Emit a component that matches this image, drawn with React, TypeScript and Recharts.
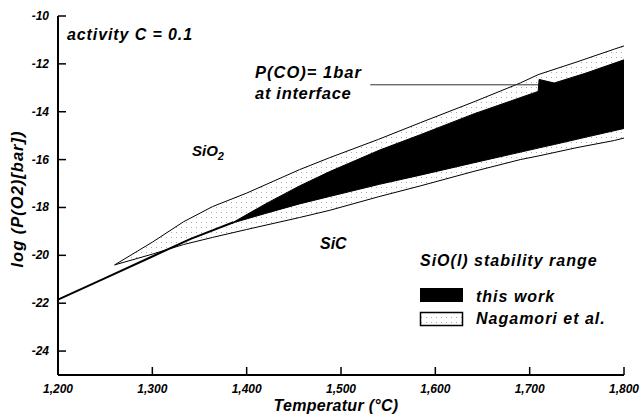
import { ComposedChart, Area, Line, XAxis, YAxis } from "recharts";

const FONT = '"Liberation Sans", Arial, sans-serif';

const xTicks = [1200, 1300, 1400, 1500, 1600, 1700, 1800];
const yTicks = [-24, -22, -20, -18, -16, -14, -12, -10];

// SiO2 / SiC boundary below the stability wedge
const boundaryT = [1200, 1250, 1300, 1340, 1386];
const boundaryLog = [-21.85, -20.95, -20.05, -19.32, -18.62];

// SiO(l) stability range, this work
const workT = [1384, 1420, 1456, 1488, 1541, 1584, 1640, 1680, 1709, 1710, 1726, 1760, 1800];
const workLo = [-18.66, -18.25, -17.85, -17.54, -17.03, -16.65, -16.14, -15.78, -15.52, -15.51, -15.37, -15.06, -14.7];
const workHi = [-18.66, -17.85, -17.1, -16.5, -15.6, -14.96, -14.1, -13.55, -13.15, -12.65, -12.8, -12.38, -11.83];

// SiO(l) stability range, Nagamori et al.
const nagT = [1260, 1300, 1333, 1364, 1400, 1456, 1488, 1540, 1584, 1640, 1690, 1709, 1750, 1790, 1800];
const nagLo = [-20.4, -19.95, -19.55, -19.25, -18.92, -18.42, -18.12, -17.55, -17.1, -16.5, -16.0, -15.85, -15.5, -15.2, -15.1];
const nagHi = [-20.4, -19.45, -18.6, -17.96, -17.4, -16.42, -15.92, -15.15, -14.46, -13.6, -12.8, -12.45, -11.92, -11.38, -11.25];

// pointer from the "P(CO) = 1bar" label
const pointerT = [1531, 1709];
const pointerLog = [-12.875, -12.875];

const boundaryRows = boundaryT.map((T, i) => ({ T, v: boundaryLog[i] }));
const workRows = workT.map((T, i) => ({ T, band: [workLo[i], workHi[i]] }));
const nagRows = nagT.map((T, i) => ({ T, band: [nagLo[i], nagHi[i]] }));
const pointerRows = pointerT.map((T, i) => ({ T, v: pointerLog[i] }));

const txt = {
  fontFamily: FONT,
  fontWeight: "bold" as const,
  fontStyle: "italic" as const,
  fill: "#000",
};

function YTick(props: any) {
  const { x, y, payload } = props;
  const ax = x + 8;
  return (
    <g>
      <line x1={ax} x2={ax + 8} y1={y} y2={y} stroke="#000" strokeWidth={1.5} />
      <text x={x - 1} y={y + 4} textAnchor="end" fontSize={12} {...txt}>
        {payload.value}
      </text>
    </g>
  );
}

function XTick(props: any) {
  const { x, y, payload } = props;
  const ay = y - 7;
  return (
    <g>
      <line x1={x} x2={x} y1={ay} y2={ay - 8} stroke="#000" strokeWidth={1.5} />
      <text x={x} y={y + 11} textAnchor="middle" fontSize={12} {...txt}>
        {payload.value.toLocaleString("en-US")}
      </text>
    </g>
  );
}

export default function App() {
  return (
    <div style={{ position: "absolute", left: 0, top: 0, width: 641, height: 418, background: "#fff" }}>
      <ComposedChart width={641} height={418} margin={{ top: 16, right: 17, bottom: 0, left: 0 }}>
        <defs>
          <pattern id="stip" width="5" height="5" patternUnits="userSpaceOnUse">
            <rect width="5" height="5" fill="#fff" />
            <rect x="1" y="2" width="1" height="1" fill="#aaa" />
          </pattern>
        </defs>
        <XAxis
          dataKey="T"
          type="number"
          domain={[1200, 1800]}
          ticks={xTicks}
          height={43}
          tickSize={0}
          tickMargin={7}
          tickLine={false}
          tick={<XTick />}
          axisLine={{ stroke: "#000", strokeWidth: 2 }}
          allowDuplicatedCategory={false}
        />
        <XAxis
          xAxisId="top"
          dataKey="T"
          type="number"
          orientation="top"
          domain={[1200, 1800]}
          height={0}
          tick={false}
          tickLine={false}
          axisLine={{ stroke: "#000", strokeWidth: 1.5 }}
        />
        <YAxis
          type="number"
          domain={[-25, -10]}
          ticks={yTicks}
          width={58}
          tickSize={0}
          tickMargin={8}
          tickLine={false}
          tick={<YTick />}
          axisLine={{ stroke: "#000", strokeWidth: 2 }}
        />
        <YAxis
          yAxisId="right"
          type="number"
          orientation="right"
          domain={[-25, -10]}
          width={0}
          tick={false}
          tickLine={false}
          axisLine={{ stroke: "#000", strokeWidth: 1.5 }}
        />
        <Area
          data={nagRows}
          dataKey="band"
          type="linear"
          fill="url(#stip)"
          fillOpacity={1}
          stroke="#000"
          strokeWidth={1}
          isAnimationActive={false}
        />
        <Area
          data={workRows}
          dataKey="band"
          type="linear"
          fill="#000"
          fillOpacity={1}
          stroke="#000"
          strokeWidth={1}
          isAnimationActive={false}
        />
        <Line
          data={boundaryRows}
          dataKey="v"
          type="linear"
          stroke="#000"
          strokeWidth={2}
          dot={false}
          isAnimationActive={false}
        />
        <Line
          data={pointerRows}
          dataKey="v"
          type="linear"
          stroke="#333"
          strokeWidth={1}
          dot={false}
          isAnimationActive={false}
        />
      </ComposedChart>
      <svg width={641} height={418} style={{ position: "absolute", left: 0, top: 0, pointerEvents: "none" }}>
        <text x={67} y={40} fontSize={16} letterSpacing={0.9} {...txt}>
          activity C = 0.1
        </text>
        <text x={255} y={78} fontSize={16.5} letterSpacing={1} {...txt}>
          P(CO)= 1bar
        </text>
        <text x={255} y={99} fontSize={16.5} letterSpacing={0.7} {...txt}>
          at interface
        </text>
        <text x={192} y={156} fontSize={15} {...txt}>
          SiO<tspan dy={4} fontSize={11}>2</tspan>
        </text>
        <text x={320} y={249} fontSize={16} {...txt}>
          SiC
        </text>
        <text x={420} y={266} fontSize={16} letterSpacing={1} {...txt}>
          SiO(l) stability range
        </text>
        <rect x={420} y={288} width={43} height={14} fill="#000" />
        <text x={476} y={302} fontSize={16} letterSpacing={1} {...txt}>
          this work
        </text>
        <rect x={420.5} y={312.5} width={42} height={13} fill="url(#stip)" stroke="#000" strokeWidth={1.5} />
        <text x={476} y={324} fontSize={16} letterSpacing={1} {...txt}>
          Nagamori et al.
        </text>
        <text x={336} y={411} textAnchor="middle" fontSize={16} letterSpacing={0.3} {...txt}>
          Temperatur (°C)
        </text>
        <text
          x={0}
          y={0}
          transform="translate(23,199) rotate(-90)"
          textAnchor="middle"
          fontSize={16.5}
          letterSpacing={1}
          {...txt}
        >
          log (P(O2)[bar])
        </text>
      </svg>
    </div>
  );
}
